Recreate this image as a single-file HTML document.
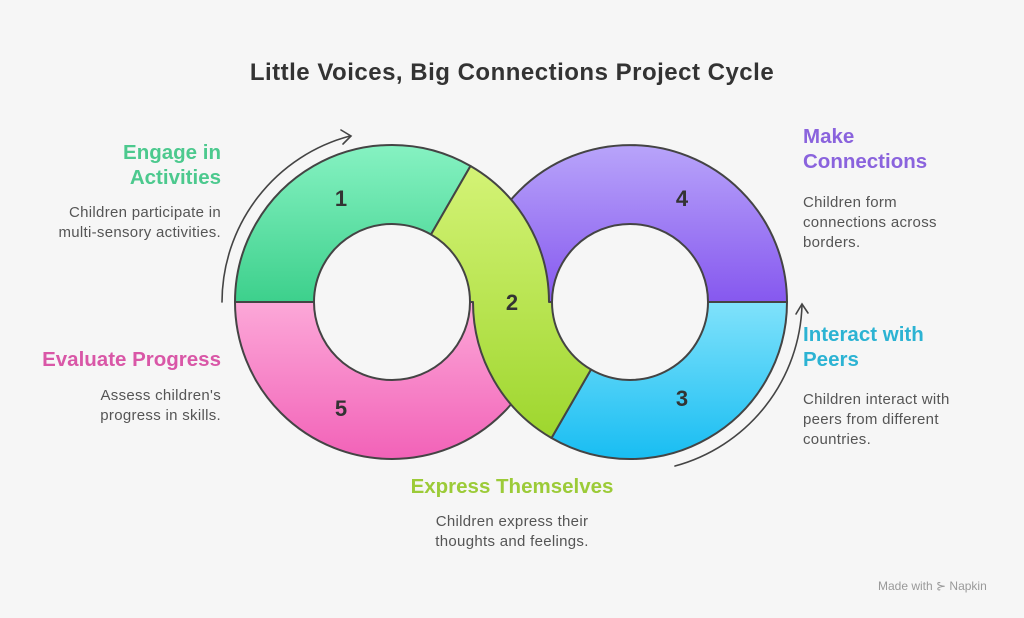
<!DOCTYPE html>
<html><head><meta charset="utf-8"><style>
body{margin:0;width:1024px;height:618px;background:#f6f6f6;font-family:"Liberation Sans",sans-serif;position:relative;overflow:hidden}
.t{position:absolute;white-space:nowrap}
.h{font-weight:bold;font-size:20.5px;line-height:25px}
.b{font-size:15px;line-height:20px;color:#555;letter-spacing:0.3px}
.r{text-align:right}
</style></head><body>
<div class="t" style="left:0;width:1024px;top:59px;text-align:center;font-size:24px;letter-spacing:0.5px;font-weight:bold;color:#333">Little Voices, Big Connections Project Cycle</div>
<svg width="1024" height="618" style="position:absolute;left:0;top:0">
<defs>
<linearGradient id="g1" x1="0" y1="0" x2="0" y2="1"><stop offset="0" stop-color="#86f2c2"/><stop offset="1" stop-color="#3dd08c"/></linearGradient>
<linearGradient id="g5" x1="0" y1="0" x2="0" y2="1"><stop offset="0" stop-color="#fca8d8"/><stop offset="1" stop-color="#f262b8"/></linearGradient>
<linearGradient id="g4" x1="0" y1="0" x2="0" y2="1"><stop offset="0" stop-color="#b8a4fa"/><stop offset="1" stop-color="#8658ef"/></linearGradient>
<linearGradient id="g3" x1="0" y1="0" x2="0" y2="1"><stop offset="0" stop-color="#80e2fb"/><stop offset="1" stop-color="#18bdf2"/></linearGradient>
<linearGradient id="g2" x1="0" y1="0" x2="0" y2="1"><stop offset="0" stop-color="#d4f376"/><stop offset="1" stop-color="#9ed62e"/></linearGradient>
</defs>
<g stroke="#444" stroke-width="2" stroke-linejoin="round">
<path d="M549,302 A157,157 0 0 1 235,302 L314,302 A78,78 0 0 0 470,302 Z" fill="url(#g5)"/>
<path d="M473,302 A157,157 0 0 1 787,302 L708,302 A78,78 0 0 0 552,302 Z" fill="url(#g4)"/>
<path d="M235,302 A157,157 0 0 1 470.5,166 L431,234.5 A78,78 0 0 0 314,302 Z" fill="url(#g1)"/>
<path d="M787,302 A157,157 0 0 1 551.5,438 L591,369.5 A78,78 0 0 0 708,302 Z" fill="url(#g3)"/>
<path d="M470.5,166 A157,157 0 0 1 549,302 L552,302 A78,78 0 0 0 591,369.5 L551.5,438 A157,157 0 0 1 473,302 L470,302 A78,78 0 0 0 431,234.5 Z" fill="url(#g2)"/>
</g>
<g fill="none" stroke="#444" stroke-width="1.6" stroke-linecap="round">
<path d="M222,302 A172,172 0 0 1 350,136"/>
<path d="M341,130 L351,136 L343,144"/>
<path d="M802,305 A172,172 0 0 1 675,466"/>
<path d="M796,314 L802,304 L808,313"/>
</g>
<g font-family="Liberation Sans,sans-serif" font-weight="bold" font-size="22" fill="#333" text-anchor="middle">
<text x="341" y="206">1</text><text x="512" y="310">2</text><text x="682" y="406">3</text><text x="682" y="206">4</text><text x="341" y="416">5</text>
</g>
</svg>
<div class="t h r" style="right:803px;top:140px;color:#4cc98e">Engage in<br>Activities</div>
<div class="t b r" style="right:803px;top:203px">Children participate in<br>multi-sensory activities.</div>
<div class="t h r" style="right:803px;top:347px;color:#d957a7">Evaluate Progress</div>
<div class="t b r" style="right:803px;top:386px">Assess children's<br>progress in skills.</div>
<div class="t h" style="left:803px;top:124px;color:#8a63dd">Make<br>Connections</div>
<div class="t b" style="left:803px;top:193px">Children form<br>connections across<br>borders.</div>
<div class="t h" style="left:803px;top:322px;color:#2cb3d3">Interact with<br>Peers</div>
<div class="t b" style="left:803px;top:390px">Children interact with<br>peers from different<br>countries.</div>
<div class="t h" style="left:0;width:1024px;top:474px;text-align:center;color:#9ccb38">Express Themselves</div>
<div class="t b" style="left:0;width:1024px;top:512px;text-align:center">Children express their<br>thoughts and feelings.</div>
<div class="t" style="left:878px;top:579px;font-size:12px;color:#999">Made with ⊱ Napkin</div>
</body></html>
